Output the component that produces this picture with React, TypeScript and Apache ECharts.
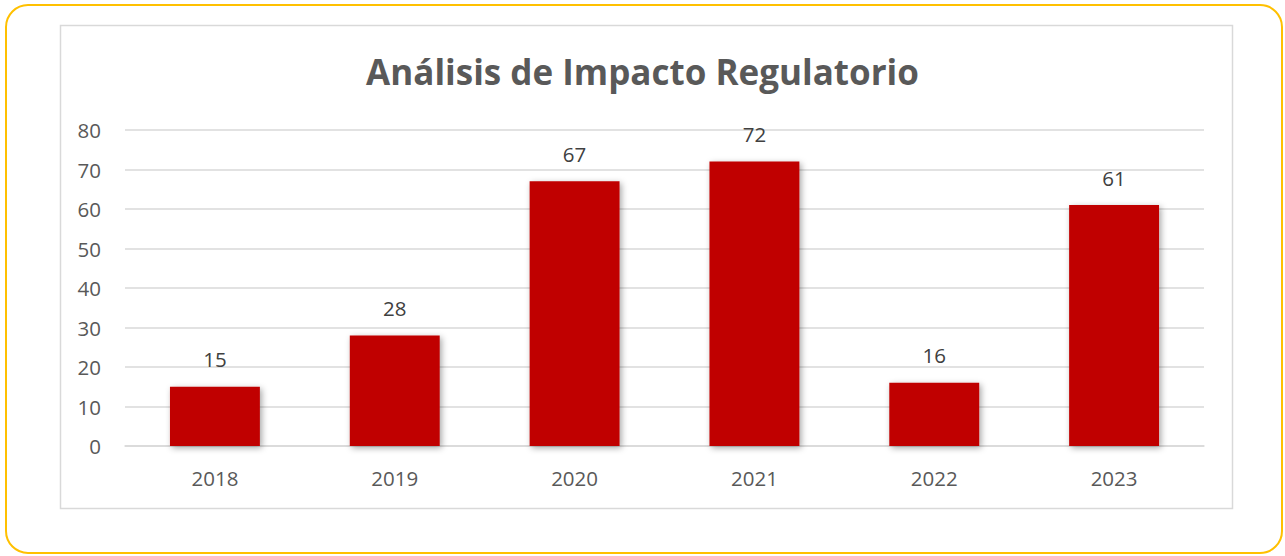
import React, { useEffect, useRef } from "react";
import * as echarts from "echarts";

const categories = ["2018", "2019", "2020", "2021", "2022", "2023"];
const values = [15, 28, 67, 72, 16, 61];
const yTicks = [0, 10, 20, 30, 40, 50, 60, 70, 80];
const titleText = "Análisis de Impacto Regulatorio";

export default function App() {
  const ref = useRef<HTMLDivElement>(null);
  useEffect(() => {
    if (!ref.current) return;
    const chart = echarts.init(ref.current, undefined, { renderer: "svg" });
    const textColor = "#595959";
    chart.setOption({
      animation: false,
      backgroundColor: "#ffffff",
      title: {
        text: titleText,
        left: "center",
        top: 49,
        textStyle: {
          fontFamily: "Open Sans",
          fontWeight: "bold",
          fontSize: 35,
          color: textColor,
        },
      },
      graphic: [
        {
          type: "rect",
          shape: { x: 6, y: 5, width: 1276, height: 548, r: 22 },
          style: { fill: "none", stroke: "#FFC000", lineWidth: 2 },
          z: -10,
        },
        {
          type: "rect",
          shape: { x: 60.5, y: 25.5, width: 1172, height: 483 },
          style: { fill: "none", stroke: "#D9D9D9", lineWidth: 1.5 },
          z: -10,
        },
      ],
      grid: { left: 125, right: 81, top: 130, bottom: 110, containLabel: false },
      xAxis: {
        type: "category",
        data: categories,
        axisLine: { show: true, lineStyle: { color: "#D9D9D9", width: 1.5 } },
        axisTick: { show: false },
        axisLabel: {
          margin: 21,
          color: textColor,
          fontFamily: "Open Sans",
          fontSize: 20.5,
        },
      },
      yAxis: {
        type: "value",
        min: yTicks[0],
        max: yTicks[yTicks.length - 1],
        interval: 10,
        axisLine: { show: false },
        axisTick: { show: false },
        splitLine: { lineStyle: { color: "#D9D9D9", width: 1.5 } },
        axisLabel: {
          margin: 24,
          color: textColor,
          fontFamily: "Open Sans",
          fontSize: 20.5,
        },
      },
      series: [
        {
          type: "bar",
          data: values,
          barWidth: "50%",
          itemStyle: {
            color: "#C00000",
            shadowColor: "rgba(0,0,0,0.35)",
            shadowBlur: 6,
            shadowOffsetX: 2,
            shadowOffsetY: 2,
          },
          label: {
            show: true,
            position: "top",
            distance: 17,
            color: "#404040",
            fontFamily: "Open Sans",
            fontSize: 20.5,
          },
        },
      ],
    });
    return () => chart.dispose();
  }, []);
  return (
    <div
      ref={ref}
      style={{ position: "fixed", left: 0, top: 0, width: 1285, height: 556 }}
    />
  );
}
